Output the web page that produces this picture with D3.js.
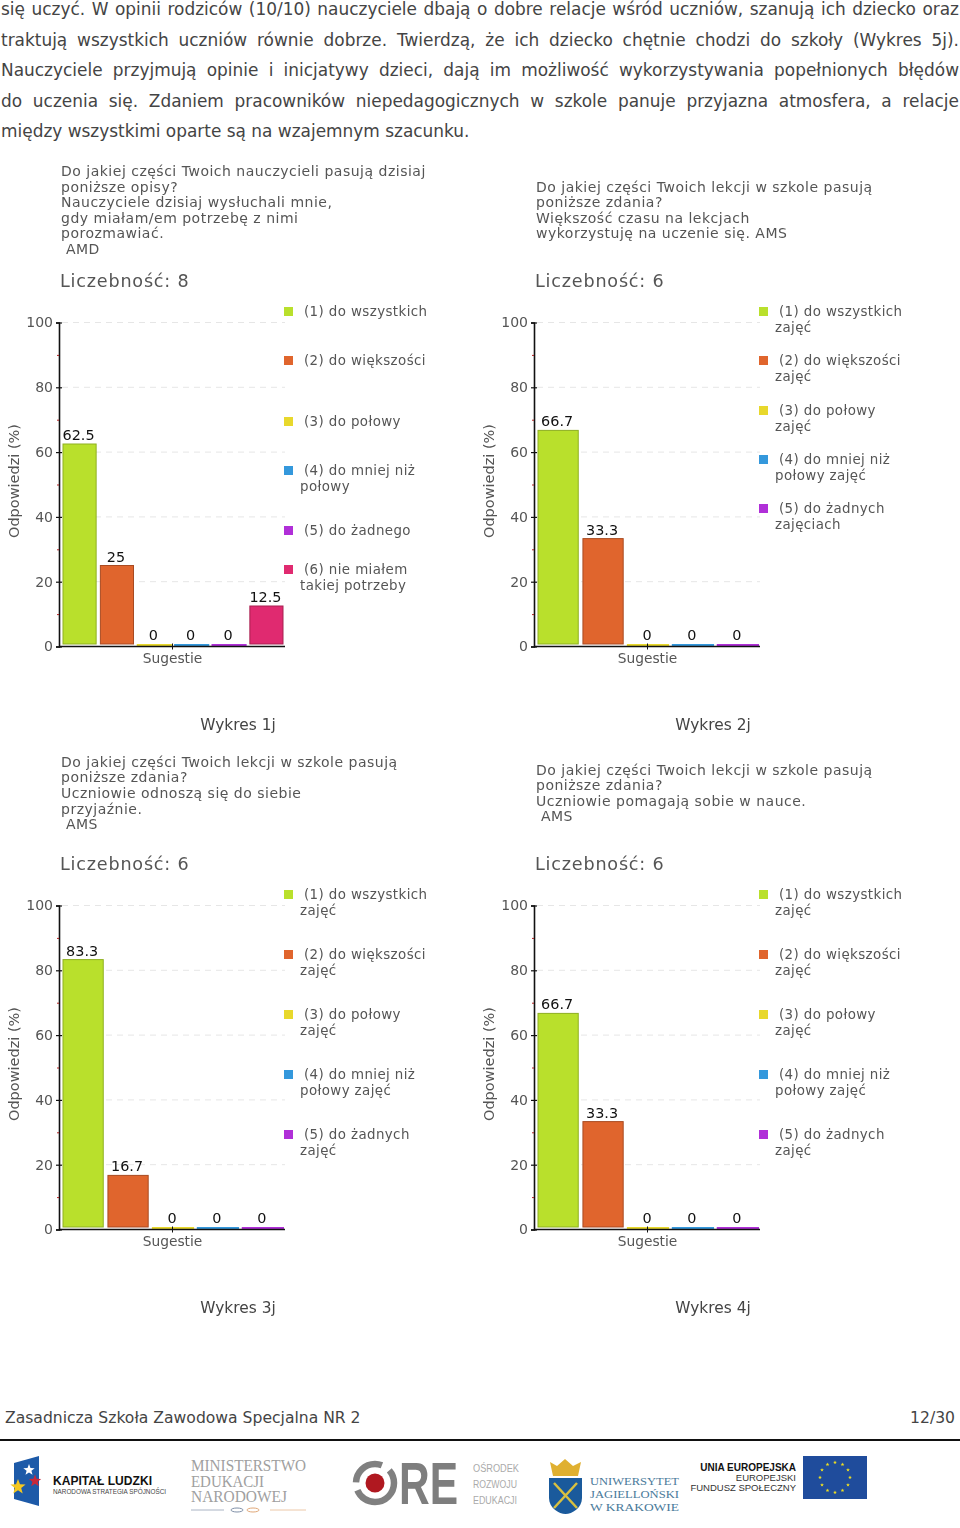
<!DOCTYPE html>
<html><head><meta charset="utf-8">
<script src="https://cdn.jsdelivr.net/npm/d3@7/dist/d3.min.js"></script>
<style>
html,body{margin:0;padding:0;background:#fff;overflow:hidden}
#page{position:relative;width:960px;height:1528px;overflow:hidden}
.ln{position:absolute;left:1px;width:958px;font:16.95px "DejaVu Sans",sans-serif;color:#444;text-align:justify;text-align-last:justify;white-space:nowrap;line-height:18px}
.ln:last-of-type{text-align-last:left}
svg{position:absolute;left:0;top:0}
.charts text{font-family:"DejaVu Sans",sans-serif}
</style></head><body><div id="page"></div>
<script>
const bodyLines=[
"się uczyć. W opinii rodziców (10/10) nauczyciele dbają o dobre relacje wśród uczniów, szanują ich dziecko oraz",
"traktują wszystkich uczniów równie dobrze. Twierdzą, że ich dziecko chętnie chodzi do szkoły (Wykres 5j).",
"Nauczyciele przyjmują opinie i inicjatywy dzieci, dają im możliwość wykorzystywania popełnionych błędów",
"do uczenia się. Zdaniem pracowników niepedagogicznych w szkole panuje przyjazna atmosfera, a relacje",
"między wszystkimi oparte są na wzajemnym szacunku."];
const bodyLineY=[9,39.5,70,100.5,131];

const titles1=["Do jakiej części Twoich nauczycieli pasują dzisiaj","poniższe opisy?","Nauczyciele dzisiaj wysłuchali mnie,","gdy miałam/em potrzebę z nimi","porozmawiać."," AMD"];
const titles2=["Do jakiej części Twoich lekcji w szkole pasują","poniższe zdania?","Większość czasu na lekcjach","wykorzystuję na uczenie się. AMS"];
const titles3=["Do jakiej części Twoich lekcji w szkole pasują","poniższe zdania?","Uczniowie odnoszą się do siebie","przyjaźnie."," AMS"];
const titles4=["Do jakiej części Twoich lekcji w szkole pasują","poniższe zdania?","Uczniowie pomagają sobie w nauce."," AMS"];

const counts=[8,6,6,6];
const values1=[62.5,25,0,0,0,12.5];
const values2=[66.7,33.3,0,0,0];
const values3=[83.3,16.7,0,0,0];
const values4=[66.7,33.3,0,0,0];

const legend1=[["(1) do wszystkich"],["(2) do większości"],["(3) do połowy"],["(4) do mniej niż","połowy"],["(5) do żadnego"],["(6) nie miałem","takiej potrzeby"]];
const legend2=[["(1) do wszystkich","zajęć"],["(2) do większości","zajęć"],["(3) do połowy","zajęć"],["(4) do mniej niż","połowy zajęć"],["(5) do żadnych","zajęciach"]];
const legend3=[["(1) do wszystkich","zajęć"],["(2) do większości","zajęć"],["(3) do połowy","zajęć"],["(4) do mniej niż","połowy zajęć"],["(5) do żadnych","zajęć"]];
const legend4=legend3;

const captions=["Wykres 1j","Wykres 2j","Wykres 3j","Wykres 4j"];
const seriesColors=["#b9e02c","#e0652d","#e8d82c","#3498dc","#b02fd8","#e02a70"];
const seriesStrokes=["#8fb022","#a94b22","#c8c020","#2a7ab0","#7a2098","#a82050"];
const yTicks=[0,20,40,60,80,100];
const yMinor=[10,30,50,70,90];

// layout only
const legendRows=[[311,360,421,470,530,569],[311,360,410,459,508],[311,371,431,491,551],[311,371,431,491,551]];
const origins=[[59,0],[534,0],[59,583],[534,583]];

const page=d3.select("#page");
page.selectAll("div.ln").data(bodyLines).join("div").attr("class","ln")
  .style("top",(d,i)=>(bodyLineY[i]-9)+"px").text(d=>d);

const svg=page.append("svg").attr("width",960).attr("height",1528);
const charts=svg.append("g").attr("class","charts");
const GREY="#555";

function drawChart(idx,titles,values,legend){
  const [ox,oy]=origins[idx];
  const g=charts.append("g").attr("transform",`translate(${ox},${oy})`);
  const y=d3.scaleLinear().domain([0,100]).range([646.5,322.5]);
  const x=d3.scaleBand().domain(values.map((d,i)=>i)).range([3,225]).paddingInner(0.06).paddingOuter(0);

  // title
  g.selectAll("text.t").data(titles).join("text").attr("class","t")
    .attr("x",2).attr("y",(d,i)=>210+(i-(titles.length-1)/2)*15.6+5)
    .attr("xml:space","preserve").attr("font-size",14).attr("letter-spacing",0.5).attr("fill",GREY).text(d=>d);
  g.append("text").attr("x",1).attr("y",287).attr("font-size",17.6).attr("letter-spacing",0.8).attr("fill",GREY)
    .text("Liczebność: "+counts[idx]);

  // grid
  g.append("g").selectAll("line").data(yTicks.slice(1)).join("line")
    .attr("x1",3).attr("x2",226).attr("y1",d=>y(d)).attr("y2",d=>y(d))
    .attr("stroke","#e6e6e6").attr("stroke-dasharray","6 5");

  // bars
  const base=y(0)-2.5;
  g.append("g").selectAll("rect").data(values).join("rect")
    .attr("x",(d,i)=>x(i)+(d>0?1:0)).attr("width",d=>x.bandwidth()-(d>0?2:0))
    .attr("y",d=>d>0?y(d):base).attr("height",d=>d>0?base-y(d):2)
    .attr("fill",(d,i)=>seriesColors[i]).attr("stroke",(d,i)=>d>0?seriesStrokes[i]:"none").attr("stroke-width",1);

  g.append("g").selectAll("text").data(values).join("text")
    .attr("x",(d,i)=>x(i)+x.bandwidth()/2-1).attr("y",d=>(d>0?y(d):base)-4)
    .attr("text-anchor","middle").attr("font-size",14.4).attr("fill","#111").text(d=>d);

  // axes
  const yAxis=d3.axisLeft(y).tickValues(yTicks).tickSize(3).tickPadding(3);
  const ya=g.append("g").call(yAxis);
  ya.select(".domain").attr("stroke","#111").attr("stroke-width",1.6);
  ya.selectAll(".tick line").attr("x2",3).attr("x1",-3).attr("stroke","#111").attr("stroke-width",1.2);
  ya.selectAll(".tick text").attr("font-size",14).attr("font-family","DejaVu Sans").attr("fill",GREY);
  const ym=g.append("g").call(d3.axisLeft(y).tickValues(yMinor).tickSize(2).tickFormat(""));
  ym.select(".domain").remove();
  ym.selectAll(".tick line").attr("stroke","#b02020");

  const xs=d3.scalePoint().domain(["Sugestie"]).range([113,113]);
  const xa=g.append("g").attr("transform",`translate(0,${y(0)})`)
    .call(d3.axisBottom(xs).tickSize(3).tickPadding(4));
  xa.select(".domain").attr("d","M0,0H226").attr("stroke","#111").attr("stroke-width",1.6);
  xa.selectAll(".tick line").attr("y1",-3).attr("y2",3).attr("stroke","#111");
  xa.selectAll(".tick text").attr("font-size",13.8).attr("font-family","DejaVu Sans").attr("fill",GREY);

  g.append("text").attr("transform",`translate(-40,481) rotate(-90)`).attr("text-anchor","middle")
    .attr("font-size",14.5).attr("fill",GREY).text("Odpowiedzi (%)");

  // legend
  const lg=g.append("g").selectAll("g").data(legend).join("g");
  lg.append("rect").attr("x",225).attr("y",(d,i)=>legendRows[idx][i]-4).attr("width",9).attr("height",9)
    .attr("fill",(d,i)=>seriesColors[i]);
  lg.selectAll("text").data((d,i)=>d.map((s,j)=>({s,j,i}))).join("text")
    .attr("x",d=>d.j?241:245).attr("y",d=>legendRows[idx][d.i]+5+d.j*15.5)
    .attr("font-size",13.4).attr("letter-spacing",0.4).attr("fill",GREY).text(d=>d.s);

  g.append("text").attr("x",179).attr("y",730).attr("text-anchor","middle").attr("font-size",15.4)
    .attr("fill","#444").text(captions[idx]);
}
drawChart(0,titles1,values1,legend1);
drawChart(1,titles2,values2,legend2);
drawChart(2,titles3,values3,legend3);
drawChart(3,titles4,values4,legend4);
charts.style("filter","blur(0.35px)");

// footer
svg.append("text").attr("x",5).attr("y",1423).attr("font-size",15.6).attr("font-family","DejaVu Sans").attr("fill","#444").text("Zasadnicza Szkoła Zawodowa Specjalna NR 2");
svg.append("text").attr("x",955).attr("y",1423).attr("text-anchor","end").attr("font-size",15.6).attr("font-family","DejaVu Sans").attr("fill","#444").text("12/30");
svg.append("rect").attr("x",0).attr("y",1439).attr("width",960).attr("height",2).attr("fill","#111");

// logos
const lo=svg.append("g");
const T=(x,y,s,size,fill,o={})=>{const t=lo.append("text").attr("x",x).attr("y",y).attr("font-size",size).attr("fill",fill)
  .attr("font-family",o.f||"Liberation Sans").attr("font-weight",o.w||"normal").attr("text-anchor",o.a||"start").text(s);
  if(o.ls)t.attr("letter-spacing",o.ls); if(o.tl)t.attr("textLength",o.tl).attr("lengthAdjust","spacingAndGlyphs"); return t;};
const star=(cx,cy,r,fill,n=5)=>{const p=[];for(let i=0;i<n*2;i++){const a=-Math.PI/2+i*Math.PI/n,R=i%2?r*.42:r;p.push([cx+R*Math.cos(a),cy+R*Math.sin(a)]);}
  lo.append("polygon").attr("points",p.join(" ")).attr("fill",fill);};
lo.append("polygon").attr("points","14,1463 39,1456 39,1506 14,1499").attr("fill","#1d5aa8");
star(29,1470,6,"#fff");star(35,1481,6.5,"#c8283a");star(18,1487,8,"#f4c820");
T(53,1485,"KAPITAŁ LUDZKI",13.5,"#111",{w:"bold",tl:99});
T(53,1494,"NARODOWA STRATEGIA SPÓJNOŚCI",6.8,"#444",{tl:113});
["MINISTERSTWO","EDUKACJI","NARODOWEJ"].forEach((s,i)=>T(191,1471+i*15.6,s,16,"#a0a0a0",{f:"Liberation Serif",tl:[115,73,96][i]}));
lo.append("line").attr("x1",191).attr("x2",224).attr("y1",1510).attr("y2",1510).attr("stroke","#aab4c4");
lo.append("line").attr("x1",270).attr("x2",306).attr("y1",1510).attr("y2",1510).attr("stroke","#ecc8a8");
lo.append("ellipse").attr("cx",237).attr("cy",1510).attr("rx",6).attr("ry",2).attr("fill","none").attr("stroke","#8090a8");
lo.append("ellipse").attr("cx",253).attr("cy",1510).attr("rx",6).attr("ry",2).attr("fill","none").attr("stroke","#e0a878");
lo.append("circle").attr("cx",375).attr("cy",1483).attr("r",19).attr("fill","none").attr("stroke","#808080").attr("stroke-width",6.5).attr("stroke-dasharray","52 8 36 9 14 0");
lo.append("circle").attr("cx",375).attr("cy",1483).attr("r",9.5).attr("fill","#b01820");
lo.append("text").attr("transform","translate(399,1504) scale(1,1.4)").attr("font-size",42.5).attr("font-weight","bold").attr("font-family","Liberation Sans").attr("fill","#7e7e7e").text("RE");
["OŚRODEK","ROZWOJU","EDUKACJI"].forEach((s,i)=>T(473,1472+i*16,s,10,"#aaa",{tl:[46,44,44][i]}));
lo.append("polygon").attr("points","550,1462 557,1466 565,1459 573,1466 581,1462 578,1476 553,1476").attr("fill","#e0b030");
lo.append("path").attr("d","M549,1478H582V1498C582,1508 572,1514 565.5,1514C559,1514 549,1508 549,1498Z").attr("fill","#1a5a9c");
lo.append("path").attr("d","M554,1483L577,1508M577,1483L554,1508").attr("stroke","#d8c040").attr("stroke-width",2.5);
["UNIWERSYTET","JAGIELLOŃSKI","W KRAKOWIE"].forEach((s,i)=>T(590,1485+i*13,s,11,"#4a7a9a",{f:"Liberation Serif",tl:89}));
T(796,1471,"UNIA EUROPEJSKA",10,"#111",{w:"bold",a:"end"});
T(796,1481,"EUROPEJSKI",9.5,"#333",{a:"end"});
T(796,1491,"FUNDUSZ SPOŁECZNY",9.5,"#333",{a:"end"});
lo.append("rect").attr("x",803).attr("y",1456).attr("width",64).attr("height",43).attr("fill","#1f4c9c");
d3.range(12).forEach(i=>{const a=i*Math.PI/6;star(835+15*Math.cos(a),1477.5+15*Math.sin(a),2,"#f0e020");});
</script></body></html>
